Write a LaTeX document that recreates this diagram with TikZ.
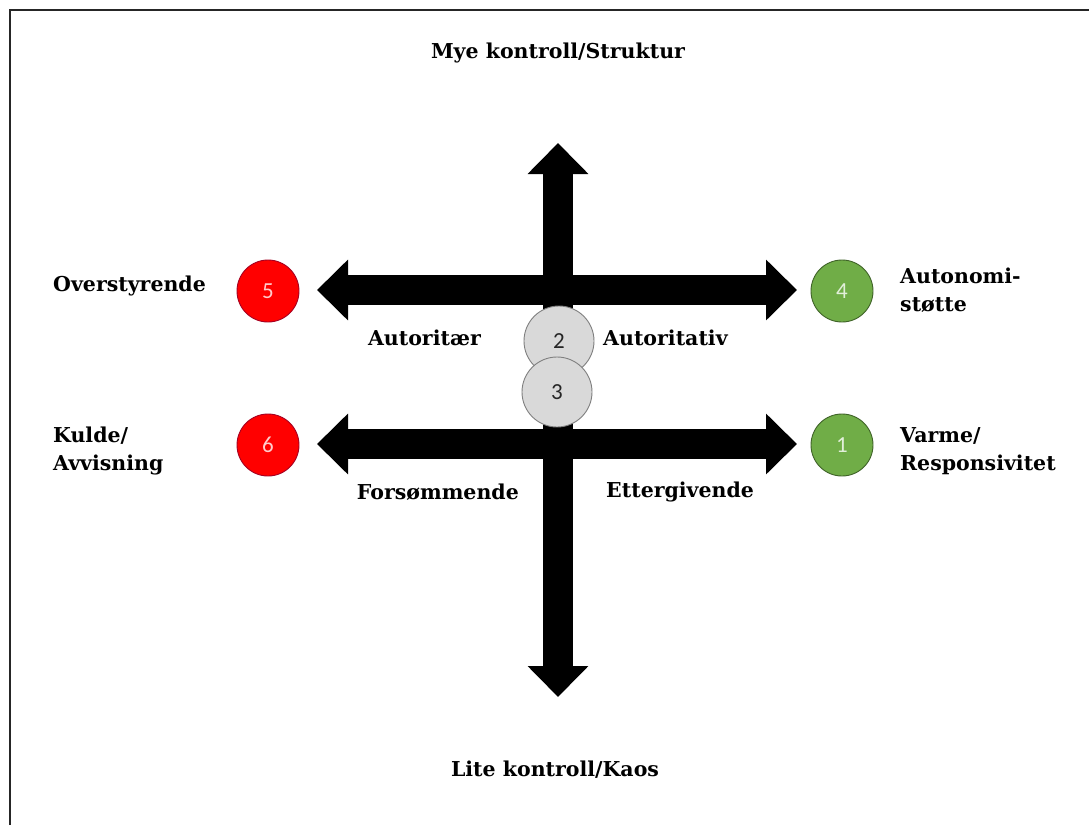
\documentclass[tikz,border=0pt]{standalone}
\usepackage{fontspec}
\setmainfont{DejaVu Serif}
\newfontfamily\numfont{Carlito}
\usetikzlibrary{arrows.meta}
\definecolor{dotred}{HTML}{FF0000}
\definecolor{dotredline}{HTML}{A50021}
\definecolor{dotgreen}{HTML}{70AD47}
\definecolor{dotgreenline}{HTML}{3F6328}
\definecolor{dotgray}{HTML}{D9D9D9}
\definecolor{dotgrayline}{HTML}{7F7F7F}
\begin{document}
\begin{tikzpicture}[x=1pt,y=-1pt,
  lbl/.style={font=\bfseries\fontsize{20.5}{27.5}\selectfont, inner sep=0pt, align=left},
  blockarrow/.style={line width=30pt, draw=black,
    {Triangle[length=31pt,width=59pt]}-{Triangle[length=31pt,width=59pt]}},
  dot/.style={circle, minimum size=62pt, inner sep=0pt, line width=0.9pt,
    font=\numfont\fontsize{23}{23}\selectfont},
  reddot/.style={dot, fill=dotred, draw=dotredline, text=white!80!red},
  greendot/.style={dot, fill=dotgreen, draw=dotgreenline, text=white!80!dotgreen},
  graydot/.style={circle, minimum size=70pt, inner sep=0pt, line width=0.9pt,
    fill=dotgray, draw=dotgrayline, text=black!85, font=\numfont\fontsize{23}{23}\selectfont}]
  \useasboundingbox (0,0) rectangle (1089,825);
  \fill[white] (0,0) rectangle (1089,825);
  % frame along the top and left edges
  \draw[line width=2.2pt, black!85] (10,825) -- (10,10) -- (1089,10);

  % end points of the three block arrows
  \coordinate (vtop) at (558,143);
  \coordinate (vbot) at (558,697);
  \coordinate (ul) at (317,290);
  \coordinate (ur) at (797,290);
  \coordinate (ll) at (317,444);
  \coordinate (lr) at (797,444);

  \draw[blockarrow] (vtop) -- (vbot);
  \draw[blockarrow] (ul) -- (ur);
  \draw[blockarrow] (ll) -- (lr);

  % numbered circles
  \node[reddot]   (c5) at (268,291) {5};
  \node[greendot] (c4) at (842,291) {4};
  \node[reddot]   (c6) at (268,445) {6};
  \node[greendot] (c1) at (842,445) {1};
  \node[graydot]  (c2) at (559,341) {2};
  \node[graydot]  (c3) at (557,392) {3};

  % axis titles
  \node[lbl] (top) at (558,53) {Mye kontroll/Struktur};
  \node[lbl] (bot) at (555,770) {Lite kontroll/Kaos};

  % side labels
  \node[lbl, anchor=west] (over) at (53,286) {Overstyrende};
  \node[lbl, anchor=west] (auto) at (900,290) {Autonomi-\\støtte};
  \node[lbl, anchor=west] (kulde) at (53,451) {Kulde/\\Avvisning};
  \node[lbl, anchor=west] (varme) at (900,451) {Varme/\\Responsivitet};

  % quadrant labels
  \node[lbl, anchor=east] (q1) at (481,338) {Autoritær};
  \node[lbl, anchor=west] (q2) at (603,338) {Autoritativ};
  \node[lbl, anchor=east] (q3) at (519,492) {Forsømmende};
  \node[lbl, anchor=west] (q4) at (606,492) {Ettergivende};
\end{tikzpicture}
\end{document}
